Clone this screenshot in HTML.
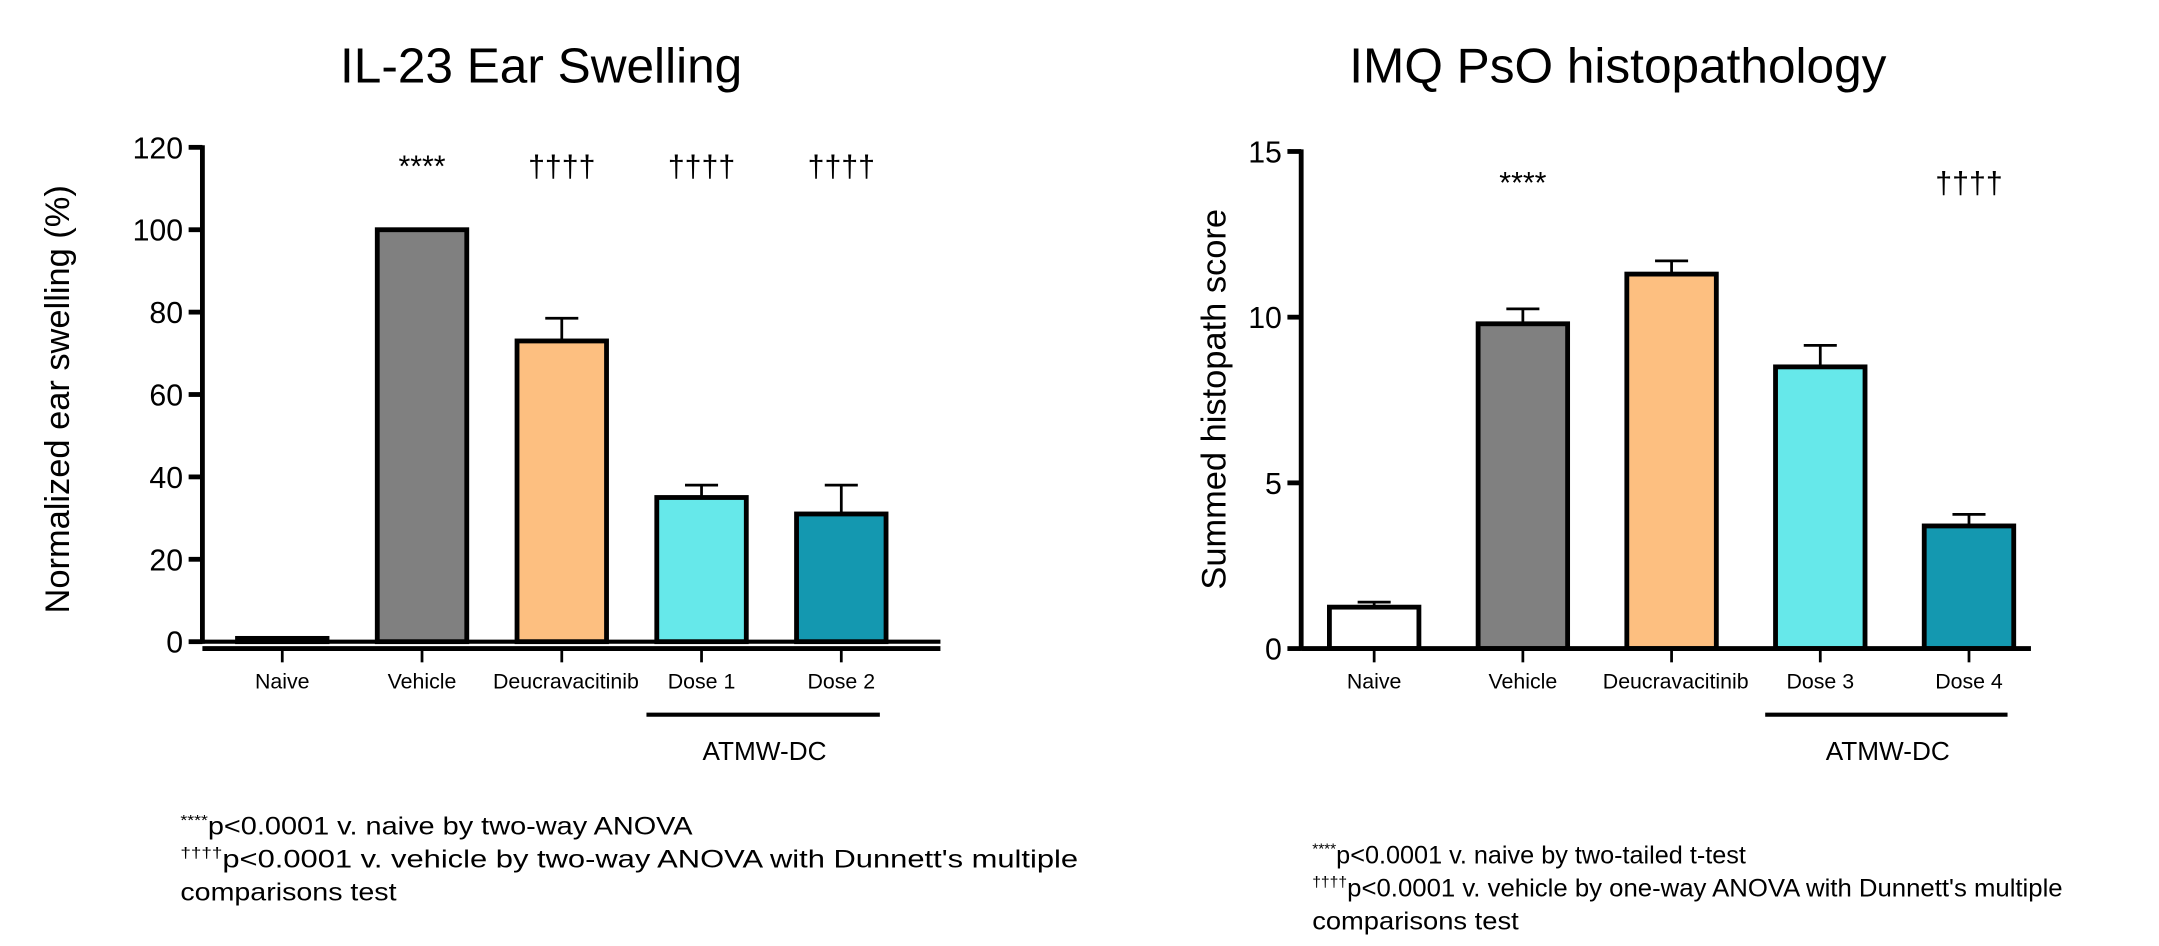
<!DOCTYPE html>
<html><head><meta charset="utf-8"><style>
html,body{margin:0;padding:0;background:#fff;}
svg{display:block;font-family:"Liberation Sans",Arial,sans-serif;}
</style></head><body>
<svg id="fig" width="2159" height="946" viewBox="0 0 1568 687" preserveAspectRatio="none" xmlns="http://www.w3.org/2000/svg">
<rect width="1568" height="687" fill="#fff"/>
</svg>
<script>
// ---- data ----
const leftCategories = ["Naive","Vehicle","Deucravacitinib","Dose 1","Dose 2"];
const leftValues = [0.8, 100, 73, 35, 31];
const leftErrors = [0, 0, 5.5, 3, 7];
const leftSig = ["", "****", "††††", "††††", "††††"];
const leftTicks = [0,20,40,60,80,100,120];

const rightCategories = ["Naive","Vehicle","Deucravacitinib","Dose 3","Dose 4"];
const rightValues = [1.25, 9.8, 11.3, 8.5, 3.7];
const rightErrors = [0.15, 0.45, 0.4, 0.65, 0.35];
const rightSig = ["", "****", "", "", "††††"];
const rightTicks = [0,5,10,15];

const barColors = ["#ffffff","#808080","#fdbf80","#66e8ea","#1498b0"];

const svg = document.getElementById('fig');
const NS = "http://www.w3.org/2000/svg";
function mk(tag, attrs, parent){
  const e = document.createElementNS(NS, tag);
  for (const k in attrs) e.setAttribute(k, attrs[k]);
  (parent||svg).appendChild(e);
  return e;
}

function drawChart(cfg){
  const g = mk('g', {});
  
  
  const y = v => cfg.y0 - (v - 0) / cfg.ymax * (cfg.y0 - cfg.yTop);
  const x = i => cfg.x0 + cfg.step * i;

  const t = mk('text', {x: cfg.titleX, y: 60, 'font-size': 36, 'text-anchor': 'middle', fill: '#000'}, g);
  t.textContent = cfg.title;
  
  

  const yl = mk('text', {x: 0, y: 0, 'font-size': 25, 'text-anchor': 'middle', transform: `translate(${cfg.ylabX},${cfg.ylabY}) rotate(-90)`}, g);
  yl.textContent = cfg.ylabel;
  
  

  const ax = mk('line', {x1: cfg.axisX, x2: cfg.axisX, y1: y(cfg.ymax) - 1.5, y2: cfg.y0 + 1.5, stroke: '#000', 'stroke-width': 3.5}, g);
  
  
  cfg.ticks.forEach(v => {
    const tk = mk('line', {x1: cfg.axisX - 10, x2: cfg.axisX, y1: y(v), y2: y(v), stroke: '#000', 'stroke-width': 3.5}, g);
    
    
    const tl = mk('text', {x: cfg.axisX - 14, y: y(v) + 8, 'font-size': 22, 'text-anchor': 'end'}, g);
    tl.textContent = v;
    
    
  });

  cfg.values.forEach((v, i) => {
    const cx = x(i), w = cfg.barW;
    const top = y(v);
    if (cfg.errors[i] > 0) {
      const ey = y(v + cfg.errors[i]);
      const el = mk('path', {d: `M${cx},${top} V${ey} M${cx-12},${ey} H${cx+12}`, stroke: '#000', 'stroke-width': 2, fill: 'none'}, g);
      
      
    }
    const r = mk('rect', {x: cx - w/2, y: top, width: w, height: Math.max(cfg.y0 - top, 0.5), fill: barColors[i], stroke: '#000', 'stroke-width': 3.5}, g);
    
    
    if (cfg.sig[i]) {
      const s = mk('text', {x: cx, y: cfg.sigY, 'font-size': 22, 'text-anchor': 'middle'}, g);
      s.textContent = cfg.sig[i];
      
      
    }
    const tk = mk('line', {x1: cx, x2: cx, y1: cfg.xAxisY, y2: cfg.xAxisY + 10, stroke: '#000', 'stroke-width': 2}, g);
    
    
    const lb = mk('text', {x: cx + (cfg.cats[i] === 'Deucravacitinib' ? 3 : 0), y: 500, 'font-size': 15.5, 'text-anchor': 'middle'}, g);
    lb.textContent = cfg.cats[i];
    
    
  });

  const xa = mk('line', {x1: cfg.axisX, x2: cfg.xEnd, y1: cfg.xAxisY, y2: cfg.xAxisY, stroke: '#000', 'stroke-width': 3.5}, g);
  
  
  if (cfg.xAxisY !== cfg.y0) {
    const zl = mk('line', {x1: cfg.axisX, x2: cfg.xEnd, y1: cfg.y0, y2: cfg.y0, stroke: '#000', 'stroke-width': 3}, g);
    
    
  }

  const gl = mk('line', {x1: x(3) - 40, x2: x(4) + 28, y1: 519, y2: 519, stroke: '#000', 'stroke-width': 3}, g);
  
  
  const gt = mk('text', {x: (x(3) + x(4)) / 2 - 5, y: 552, 'font-size': 19, 'text-anchor': 'middle'}, g);
  gt.textContent = 'ATMW-DC';
  
  

  cfg.notes.forEach((n, k) => {
    const ft = mk('text', {x: cfg.noteX, y: cfg.noteY + k * 24, 'font-size': 18, textLength: n[2], lengthAdjust: 'spacingAndGlyphs'}, g);
    if (n[0]) {
      const sp = mk('tspan', {'font-size': 11, dy: -7}, ft);
      sp.textContent = n[0];
      const rest = mk('tspan', {dy: 7}, ft);
      rest.textContent = n[1];
    } else ft.textContent = n[1];
    
    
  });
}

drawChart({
  name: 'il23-ear-swelling-chart', title: 'IL-23 Ear Swelling', titleX: 393,
  ylabel: 'Normalized ear swelling  (%)', ylabX: 50, ylabY: 290,
  axisX: 147, y0: 466, yTop: 107, ymax: 120, ticks: leftTicks,
  x0: 205, step: 101.5, barW: 65, xAxisY: 471, xEnd: 683,
  cats: leftCategories, values: leftValues, errors: leftErrors, sig: leftSig, sigY: 128,
  noteX: 131, noteY: 606,
  notes: [["****","p<0.0001 v. naive by two-way ANOVA", 372],["††††","p<0.0001 v. vehicle by two-way ANOVA with Dunnett's multiple", 652],["","comparisons test", 157]]
});
drawChart({
  name: 'imq-pso-histopathology-chart', title: 'IMQ PsO histopathology', titleX: 1175,
  ylabel: 'Summed histopath score', ylabX: 890, ylabY: 290,
  axisX: 945, y0: 471, yTop: 110, ymax: 15, ticks: rightTicks,
  x0: 998, step: 108, barW: 65, xAxisY: 471, xEnd: 1475,
  cats: rightCategories, values: rightValues, errors: rightErrors, sig: rightSig, sigY: 140,
  noteX: 953, noteY: 627,
  notes: [["****","p<0.0001 v. naive by two-tailed t-test", 315],["††††","p<0.0001 v. vehicle by one-way ANOVA with Dunnett's multiple", 545],["","comparisons test", 150]]
});
</script>
</body></html>
